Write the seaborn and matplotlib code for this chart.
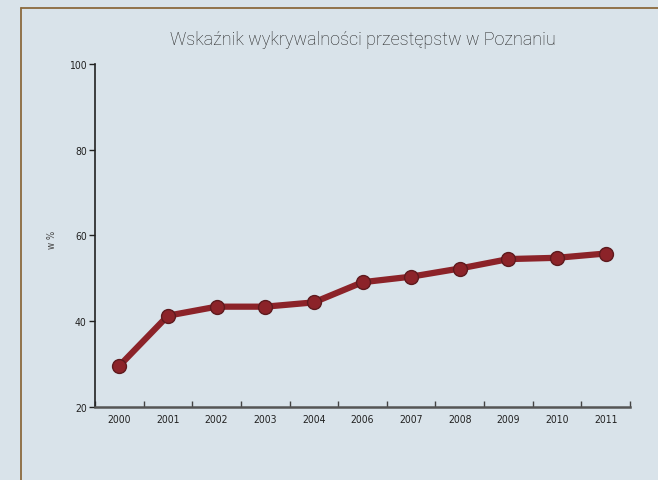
import numpy as np
import pandas as pd
import matplotlib
matplotlib.use("Agg")
import matplotlib.pyplot as plt
from matplotlib.lines import Line2D
from matplotlib.ticker import FixedLocator
import seaborn as sns

# Data
years = ["2000", "2001", "2002", "2003", "2004", "2006",
         "2007", "2008", "2009", "2010", "2011"]
detection_rate = [29.6, 41.3, 43.4, 43.4, 44.4, 49.1,
                  50.4, 52.3, 54.5, 54.8, 55.8]
y_ticks = [20, 40, 60, 80, 100]

title = "Wskaźnik wykrywalności przestępstw w Poznaniu"
y_label = "w %"

bg = "#d9e3ea"
line_color = "#8c2329"

sns.set_theme(style="white")
plt.rcParams["font.family"] = ["DejaVu Sans"]
plt.rcParams["font.stretch"] = "condensed"

df = pd.DataFrame({"pos": np.arange(len(years)), "value": detection_rate})

fig = plt.figure(figsize=(6.58, 4.81), dpi=100, facecolor=bg)
ax = fig.add_axes([95 / 658, 1 - 408 / 481, 535 / 658, 343 / 481])
ax.set_facecolor(bg)

sns.lineplot(data=df, x="pos", y="value", ax=ax, color=line_color,
             linewidth=4.5, marker="o", markersize=10,
             markeredgecolor="#5e1a1e", markeredgewidth=1.0)

ax.set_xlim(-0.5, len(years) - 0.5)
ax.set_ylim(20, 100)

# ticks at category boundaries, labels at centers
ax.xaxis.set_major_locator(FixedLocator(np.arange(-0.5, len(years), 1.0)))
ax.set_xticklabels([])
ax.xaxis.set_minor_locator(FixedLocator(df["pos"]))
ax.set_xticklabels(years, minor=True)
ax.tick_params(axis="x", which="major", direction="in", length=4, width=1,
               color="#444444", bottom=True)
ax.tick_params(axis="x", which="minor", length=0, pad=5, labelsize=7.5,
               labelcolor="#222222", bottom=True)

ax.set_yticks(y_ticks)
ax.tick_params(axis="y", direction="out", length=4, width=1, color="#222222",
               left=True, labelsize=7.5, labelcolor="#222222", pad=2)

for side in ["top", "right"]:
    ax.spines[side].set_visible(False)
ax.spines["left"].set_color("#222222")
ax.spines["left"].set_linewidth(1.2)
ax.spines["bottom"].set_color("#555555")
ax.spines["bottom"].set_linewidth(1.8)

ax.set_xlabel("")
ax.set_ylabel(y_label, fontsize=7, color="#444444")
ax.yaxis.set_label_coords((57 - 95) / 535, (408 - 240) / 343)

fig.text(363 / 658, 1 - 40 / 481, title, ha="center", va="center",
         fontsize=13, color="#222222",
         family=["Roboto", "DejaVu Sans"], fontweight="light")

# brown frame (top and left edges visible in the reference)
frame_x = 21 / 658
frame_y = 1 - 9 / 481
fig.add_artist(Line2D([frame_x, 1.01], [frame_y, frame_y], transform=fig.transFigure,
                      color="#8b6a3e", linewidth=1.3))
fig.add_artist(Line2D([frame_x, frame_x], [frame_y, -0.01], transform=fig.transFigure,
                      color="#8b6a3e", linewidth=1.3))

fig.savefig("out.png", dpi=100, facecolor=bg)
